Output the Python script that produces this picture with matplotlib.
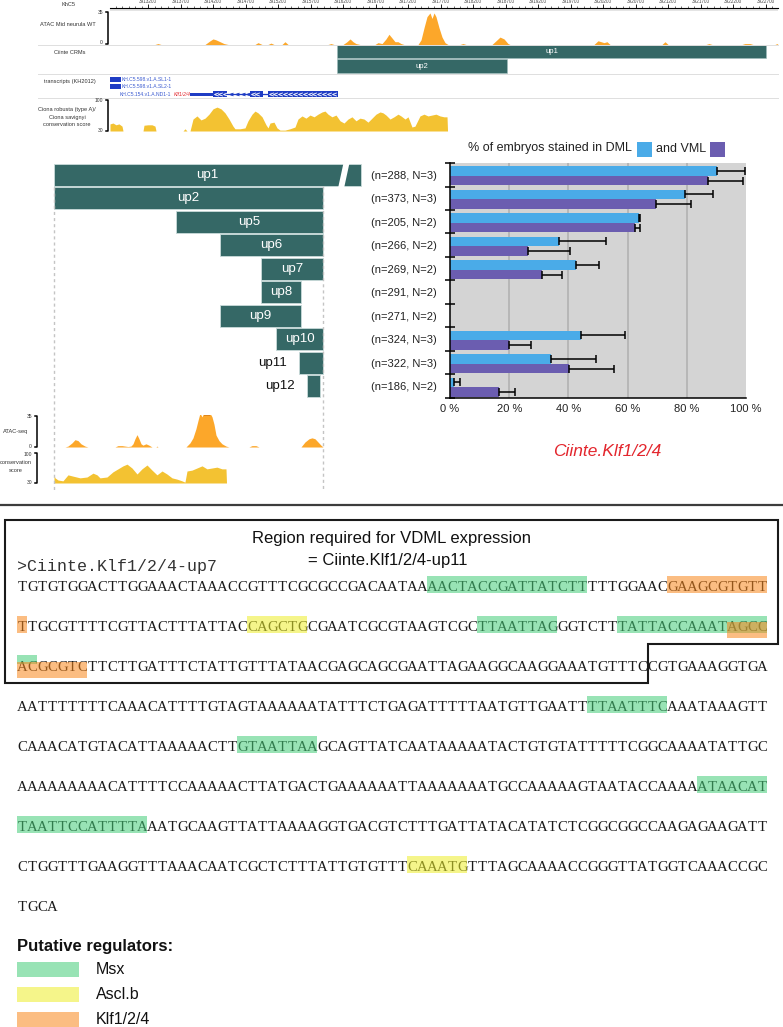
import numpy as np
import matplotlib
matplotlib.use("Agg")
import matplotlib.pyplot as plt
from matplotlib.patches import Rectangle, Polygon

# ======================= DATA =======================
genome_range = [3912615, 3922892]
ruler_ticks = [3913200, 3913700, 3914200, 3914700, 3915200, 3915700, 3916200,
               3916700, 3917200, 3917700, 3918200, 3918700, 3919200, 3919700,
               3920200, 3920700, 3921200, 3921700, 3922200, 3922700]

atac_top_bp = [3912615, 3913307, 3913353, 3913400, 3914077, 3914154, 3914200, 3914246,
               3914308, 3914369, 3914431, 3914846, 3914892, 3914954, 3915046, 3915092,
               3915138, 3915261, 3915307, 3915354, 3915969, 3916015, 3916061, 3916200,
               3916261, 3916308, 3916354, 3916400, 3916461, 3916692, 3916738, 3916800,
               3916861, 3916907, 3916954, 3917000, 3917046, 3917092, 3917138, 3917354,
               3917400, 3917446, 3917492, 3917538, 3917569, 3917600, 3917630, 3917677,
               3917723, 3917769, 3917815, 3917999, 3918046, 3918092, 3918492, 3918554,
               3918615, 3918677, 3918738, 3918769, 3920061, 3920123, 3920169, 3920215,
               3920261, 3920308, 3921107, 3921154, 3921200, 3921784, 3921830, 3921877,
               3922338, 3922384, 3922461, 3922507, 3922846, 3922877, 3922892]
atac_top_val = [0, 0, 1, 0, 0, 4, 6, 5, 3, 1, 0, 0, 2, 0, 0, 1.5, 0, 0, 3, 0, 0, 1, 0,
                0, 3, 6, 3, 1, 0, 0, 2, 1, 6, 11, 7, 3, 3, 1, 0,
                0, 5, 18, 30, 34, 28, 34, 30, 18, 8, 2, 0, 0, 1, 0,
                0, 4, 8, 6, 1, 0, 0, 4, 3, 2, 3, 0, 0, 3, 0, 0, 1, 0, 0, 1, 1, 0, 0, 1, 0]

cons_top_bp = [3912615, 3912661, 3912707, 3912753, 3912800, 3912815,
               3913123, 3913138, 3913200, 3913261, 3913307, 3913323,
               3913738, 3913769, 3913800,
               3913846, 3913892, 3913953, 3914015, 3914077, 3914138, 3914200, 3914261,
               3914323, 3914384, 3914446, 3914507, 3914538, 3914615, 3914692,
               3914738, 3914800, 3914846, 3914892, 3914954, 3915015, 3915046, 3915077,
               3915138, 3915184, 3915231, 3915307, 3915384, 3915461,
               3915507, 3915569, 3915630, 3915692, 3915754, 3915815, 3915877, 3915923,
               3915969, 3916030, 3916092, 3916154, 3916215, 3916277, 3916338, 3916400,
               3916461, 3916523, 3916584, 3916646, 3916707, 3916769, 3916815, 3916861,
               3916923, 3916984, 3917046, 3917092, 3917154, 3917200, 3917261, 3917307,
               3917384, 3917446, 3917507, 3917569, 3917630, 3917692, 3917754, 3917800,
               3917808]
cons_top_val = [46, 48, 44, 46, 41, 30,
                30, 43, 44, 44, 41, 30,
                30, 35, 30,
                30, 57, 64, 55, 59, 68, 80, 84, 80, 71, 57, 41, 35, 35, 37,
                53, 68, 75, 71, 62, 44, 37, 48, 50, 37, 32, 32, 35, 39,
                57, 64, 59, 66, 62, 68, 73, 75, 68, 62, 66, 53, 48, 57, 62, 53,
                59, 57, 50, 59, 68, 73, 71, 66, 57, 62, 68, 64, 57, 62, 39, 41,
                64, 68, 64, 66, 68, 64, 62, 62, 30]

crm_names = ["up1", "up2"]
crm_start = [3916107, 3916107]
crm_end = [3922708, 3918723]

sl_start = [3912615, 3912615]
sl_end = [3912784, 3912784]
sl_names = ["KH.C5.598.v1.A.SL1-1", "KH.C5.598.v1.A.SL2-1"]
gene_utr = [3913846, 3914200]
gene_exon_start = [3914200, 3914769, 3915046]
gene_exon_end = [3914415, 3914969, 3916123]

construct_names = ["up1", "up2", "up5", "up6", "up7", "up8", "up9", "up10", "up11", "up12"]
construct_start = [0, 0, 1186, 1614, 2012, 2012, 1614, 2158, 2382, 2459]
construct_end = [2985, 2615, 2615, 2615, 2615, 2401, 2401, 2615, 2615, 2586]
region_len = 2615

atac_low_bp = [0, 107, 136, 175, 204, 233, 262, 301, 330,
               593, 622, 661, 690, 719, 748, 768, 787, 807, 826, 846, 865, 894, 923, 953,
               991, 1001, 1011,
               1283, 1322, 1351, 1380, 1400, 1419, 1439, 1458, 1477, 1497, 1516, 1536,
               1555, 1575, 1604, 1633, 1672, 1701,
               1895, 1925, 1963, 1993,
               2401, 2440, 2479, 2508, 2537, 2566, 2595, 2615]
atac_low_val = [0, 0, 1, 4.5, 8, 7, 3.5, 1, 0,
                0, 1.5, 1.5, 1, 0.5, 1, 3.5, 9, 13.5, 9, 3.5, 2, 3.5, 2, 0,
                0, 1, 0,
                0, 4.5, 10, 20, 29, 37, 33, 38, 38, 38, 37, 33, 25, 13, 7, 3.5, 1, 0,
                0, 1.5, 1.5, 0,
                0, 5.5, 9, 10, 9, 5.5, 2, 0]

cons_low_bp = [0, 10, 39, 87, 136, 185, 253, 321, 379, 418, 447, 515, 573, 622, 671,
               710, 758, 807, 855, 904, 953, 1001, 1050, 1098, 1147, 1196, 1244, 1273,
               1293, 1341, 1390, 1439, 1487, 1536, 1584, 1633, 1672, 1677]
cons_low_val = [48, 42, 37, 35, 49, 46, 42, 44, 53, 49, 42, 44, 56, 63, 70, 74, 65, 51,
                63, 72, 60, 49, 58, 51, 42, 39, 35, 32, 58, 60, 65, 70, 63, 65, 67, 63,
                63, 30]

bar_labels = ["(n=288, N=3)", "(n=373, N=3)", "(n=205, N=2)", "(n=266, N=2)",
              "(n=269, N=2)", "(n=291, N=2)", "(n=271, N=2)", "(n=324, N=3)",
              "(n=322, N=3)", "(n=186, N=2)"]
dml_pct = [90.3, 79.4, 63.9, 36.8, 42.5, 0, 0, 44.3, 34.0, 1.5]
dml_err = [9.5, 9.3, 0.4, 15.8, 7.7, 0, 0, 14.8, 15.3, 1.8]
vml_pct = [87.0, 69.7, 62.6, 26.5, 31.2, 0, 0, 19.8, 40.1, 16.6]
vml_err = [12.1, 11.6, 1.7, 13.9, 6.8, 0, 0, 7.4, 15.3, 5.4]
x_ticks = [0, 20, 40, 60, 80, 100]

seq_header = ">Ciinte.Klf1/2/4-up7"
seq_lines = [
    "TGTGTGGACTTGGAAACTAAACCGTTTCGCGCCGACAATAAAACTACCGATTATCTTTTTGGAACGAAGCGTGTT",
    "TTGCGTTTTCGTTACTTTATTACCAGCTGCGAATCGCGTAAGTCGCTTAATTAGGGTCTTTATTACCAAATAGCC",
    "ACGCGTCTTCTTGATTTCTATTGTTTATAACGAGCAGCGAATTAGAAGGCAAGGAAATGTTTCCGTGAAAGGTGA",
    "AATTTTTTTCAAACATTTTGTAGTAAAAAATATTTCTGAGATTTTTAATGTTGAATTTTAATTTCAAATAAAGTT",
    "CAAACATGTACATTAAAAACTTGTAATTAAGCAGTTATCAATAAAAATACTGTGTATTTTTCGGCAAAATATTGC",
    "AAAAAAAAACATTTTCCAAAAACTTATGACTGAAAAAATTAAAAAAATGCCAAAAAGTAATACCAAAAATAACAT",
    "TAATTCCATTTTAAATGCAAGTTATTAAAAGGTGACGTCTTTGATTATACATATCTCGGCGGCCAAGAGAAGATT",
    "CTGGTTTGAAGGTTTAAACAATCGCTCTTTATTGTGTTTCAAATGTTTAGCAAAACCGGGTTATGGTCAAACCGC",
    "TGCA",
]
motif_line = [0, 0, 1, 1, 1, 1, 1, 2, 2, 3, 4, 5, 6, 7]
motif_start = [41, 65, 0, 23, 46, 60, 71, 0, 0, 57, 22, 68, 0, 39]
motif_len = [16, 10, 1, 6, 8, 15, 4, 2, 7, 8, 8, 7, 13, 6]
motif_factor = ["Msx", "Klf1/2/4", "Klf1/2/4", "Ascl.b", "Msx", "Msx", "Klf1/2/4",
                "Msx", "Klf1/2/4", "Msx", "Msx", "Msx", "Msx", "Ascl.b"]
motif_band = ["full", "full", "full", "full", "full", "full", "low",
              "high", "low", "full", "full", "full", "full", "full"]
regulators = ["Msx", "Ascl.b", "Klf1/2/4"]

# ======================= STYLE =======================
W, H = 783, 1027
plt.rcParams['font.family'] = ['Liberation Sans', 'DejaVu Sans']
TEAL = '#356866'
ORANGE = '#fca72a'
GOLD = '#f3c232'
BLUE = '#4aabe8'
PURPLE = '#6b5db0'
RED = '#e3262d'
TBLUE = '#1f3cc4'
LABEL = '#333333'
factor_color = {"Msx": "#44cc78", "Ascl.b": "#edee2a", "Klf1/2/4": "#f8871c"}
HL_ALPHA = 0.55
band_geom = {"full": (-0.27, 0.42), "low": (-0.12, 0.40), "high": (-0.30, 0.22)}

fig = plt.figure(figsize=(W / 100, H / 100), dpi=100)
fig.patch.set_facecolor('white')


def px_axes(x0, y0, x1, y1):
    return fig.add_axes([x0 / W, 1 - y1 / H, (x1 - x0) / W, (y1 - y0) / H])


def bare(ax):
    ax.set_xticks([])
    ax.set_yticks([])
    for s in ax.spines.values():
        s.set_visible(False)
    ax.patch.set_alpha(0)

# ---------------- top browser ----------------
ax_r = px_axes(110, 8, 778, 11)
ax_r.set_xlim(*genome_range)
ax_r.set_ylim(0, 1)
ax_r.set_facecolor('#e4e4e4')
for s in ['bottom', 'left', 'right']:
    ax_r.spines[s].set_visible(False)
ax_r.spines['top'].set_linewidth(0.8)
ax_r.xaxis.tick_top()
ax_r.set_xticks(ruler_ticks)
ax_r.set_xticklabels([str(t) for t in ruler_ticks], fontsize=3.3, color='#444444')
ax_r.set_xticks(np.arange(3912700, 3922892, 100), minor=True)
ax_r.tick_params(axis='x', which='major', length=2.6, width=0.6, pad=0.4)
ax_r.tick_params(axis='x', which='minor', length=1.4, width=0.4)
ax_r.set_yticks([])

ax_a = px_axes(110, 12, 778, 44.5)
ax_a.set_xlim(*genome_range)
ax_a.set_ylim(0, 35)
ax_a.fill_between(atac_top_bp, atac_top_val, color=ORANGE, lw=0)
bare(ax_a)

ax_c = px_axes(110, 44, 778, 74)
ax_c.set_xlim(*genome_range)
ax_c.set_ylim(1.55, -0.517)
ax_c.barh(range(len(crm_names)), [e - s for s, e in zip(crm_start, crm_end)],
          left=crm_start, height=0.9, color=TEAL, edgecolor='#9fbdbb', lw=0.4)
for i, nm in enumerate(crm_names):
    ax_c.text((crm_start[i] + crm_end[i]) / 2, i, nm, color='white', fontsize=5.6,
              ha='center', va='center')
bare(ax_c)

ax_t = px_axes(110, 74, 778, 97.5)
ax_t.set_xlim(*genome_range)
ax_t.set_ylim(2.43, -0.74)
for i in range(len(sl_names)):
    ax_t.barh(i, sl_end[i] - sl_start[i], left=sl_start[i], height=0.65, color=TBLUE)
    ax_t.text(sl_end[i] + 15, i, sl_names[i], color='#3b5bd0', fontsize=3.6,
              ha='left', va='center')
ax_t.plot([gene_exon_end[0], gene_exon_start[-1]], [2, 2], color=TBLUE, lw=0.9)
ax_t.barh(2, gene_utr[1] - gene_utr[0], left=gene_utr[0], height=0.45, color=TBLUE)
for s, e in zip(gene_exon_start, gene_exon_end):
    ax_t.barh(2, e - s, left=s, height=0.8, color=TBLUE)
    xs = np.arange(s + 40, e - 20, 75)
    ax_t.plot(xs, [2] * len(xs), ls='none', marker='$<$', ms=3.0, color='white', mew=0.2)
xi = np.arange(gene_exon_end[0] + 60, gene_exon_start[1] - 20, 90)
ax_t.plot(xi, [2] * len(xi), ls='none', marker='$<$', ms=2.6, color=TBLUE, mew=0.3)
ax_t.text(gene_utr[0] - 290, 2, "KH.C5.154.v1.A.ND1-1", color='#3b5bd0', fontsize=3.6,
          ha='right', va='center')
ax_t.text(gene_utr[0] - 250, 2, "Klf1/2/4", color=RED, fontsize=3.6, style='italic',
          ha='left', va='center')
bare(ax_t)

ax_k = px_axes(110, 100, 778, 131)
ax_k.set_xlim(*genome_range)
ax_k.set_ylim(30, 100)
ax_k.fill_between(cons_top_bp, 30, cons_top_val, color=GOLD, lw=0)
bare(ax_k)

# ---------------- constructs ----------------
ax_u = px_axes(54, 163, 323, 398)
ax_u.set_xlim(0, region_len)
ax_u.set_ylim(9.5, -0.5)
rows = np.arange(len(construct_names))
ax_u.barh(rows, [e - s for s, e in zip(construct_start, construct_end)],
          left=construct_start, height=0.93, color=TEAL, edgecolor='#c9dbda', lw=0.6,
          clip_on=False)
for i, nm in enumerate(construct_names):
    width = construct_end[i] - construct_start[i]
    if width > 350:
        ax_u.text((construct_start[i] + construct_end[i]) / 2, i, nm, color='white',
                  fontsize=9.6, ha='center', va='center', clip_on=False)
    else:
        ax_u.annotate(nm, (construct_start[i], i), xytext=(-9, 0),
                      textcoords='offset points', color='#111111', fontsize=9.6,
                      ha='right', va='center')
bare(ax_u)

ax_la = px_axes(54, 415, 323, 447)
ax_la.set_xlim(0, region_len)
ax_la.set_ylim(0, 35)
ax_la.fill_between(atac_low_bp, atac_low_val, color=ORANGE, lw=0)
ax_la.fill_between(atac_low_bp, 33.5, np.minimum(atac_low_val, 35),
                   where=np.array(atac_low_val) > 35, color='#e0861c', lw=0)
bare(ax_la)

ax_lc = px_axes(54, 453, 323, 483)
ax_lc.set_xlim(0, region_len)
ax_lc.set_ylim(30, 100)
ax_lc.fill_between(cons_low_bp, 30, cons_low_val, color=GOLD, lw=0)
bare(ax_lc)

# ---------------- bar chart ----------------
ax_b = px_axes(450, 163, 746, 398)
ax_b.set_facecolor('#d4d4d4')
ax_b.set_xlim(0, 100)
ax_b.set_ylim(9.5, -0.5)
for g in x_ticks[1:-1]:
    ax_b.axvline(g, color='#b4b4b4', lw=1.3, zorder=0.5)
yb = np.arange(len(bar_labels))
off_d, off_v, bh = -0.16, 0.25, 0.41
ax_b.barh(yb + off_d, dml_pct, height=bh, color=BLUE, zorder=2)
ax_b.barh(yb + off_v, vml_pct, height=bh, color=PURPLE, zorder=2)
for vals, errs, off in [(dml_pct, dml_err, off_d), (vml_pct, vml_err, off_v)]:
    m = np.array(vals) > 0
    v = np.array(vals)[m]
    e = np.array(errs)[m]
    ax_b.errorbar(v, yb[m] + off, xerr=[np.zeros_like(e), e], fmt='none',
                  ecolor='black', elinewidth=1.1, capsize=2.6, capthick=1.1,
                  zorder=3, clip_on=False)
for s in ['top', 'right']:
    ax_b.spines[s].set_visible(False)
ax_b.spines['left'].set_linewidth(1.1)
ax_b.spines['bottom'].set_linewidth(1.1)
ax_b.set_yticks(yb)
ax_b.set_yticklabels(bar_labels, fontsize=8, color='#222222')
ax_b.set_yticks(np.arange(-0.5, len(bar_labels), 1.0), minor=True)
ax_b.tick_params(axis='y', which='major', length=0, pad=9.5)
ax_b.tick_params(axis='y', which='minor', length=6.5, width=1.1, direction='inout')
ax_b.set_xticks(x_ticks)
ax_b.set_xticklabels([f"{t} %" for t in x_ticks], fontsize=8, color='#222222')
ax_b.tick_params(axis='x', length=0, pad=4)

# ---------------- sequence ----------------
ax_s = px_axes(17.3, 547, 767.3, 927)
ax_s.set_xlim(0, 75)
ax_s.set_ylim(8.5, -1.0)
bare(ax_s)
SEQ_FONT = dict(family=['Liberation Serif', 'DejaVu Serif'], fontsize=10.6, color='#1a1a1a')
ax_s.text(0, -0.5 + 0.11, seq_header, ha='left', va='baseline',
          family=['Liberation Mono', 'DejaVu Sans Mono'], fontsize=12, color='#333333')
for li, line in enumerate(seq_lines):
    for j, ch in enumerate(line):
        ax_s.text(j + 0.5, li + 0.11, ch, ha='center', va='baseline', **SEQ_FONT)
for ln, st, le, fa, bd in zip(motif_line, motif_start, motif_len, motif_factor, motif_band):
    top, hh = band_geom[bd]
    ax_s.add_patch(Rectangle((st, ln + top), le, hh, facecolor=factor_color[fa],
                             alpha=HL_ALPHA, lw=0, zorder=3))

# ---------------- overlay (labels, frames) ----------------
ov = px_axes(0, 0, W, H)
ov.set_xlim(0, W)
ov.set_ylim(H, 0)
ov.axis('off')

small = dict(fontsize=4.1, color=LABEL, ha='center', va='center')
ov.text(68, 5, "KhC5", **small)
ov.text(68, 24, "ATAC Mid neurula WT", **small)
ov.text(70, 52, "Ciinte CRMs", **small)
ov.text(70, 81, "transcripts (KH2012)", **small)
ov.text(67, 110, "Ciona robusta (type A)/", **small)
ov.text(67, 117.5, "Ciona savignyi", **small)
ov.text(67, 124.5, "conservation score", **small)
for y in [44.5, 74, 97.5]:
    ov.plot([38, 778], [y, y], color='#dedede', lw=0.7, zorder=0)


def bracket(x, y0, y1, top_lab, bot_lab, fs=3.6):
    ov.plot([x - 2.2, x, x, x - 2.2], [y0, y0, y1, y1], color='black', lw=1.1)
    ov.text(x - 5, y0 + 1, top_lab, fontsize=fs, color=LABEL, ha='right', va='center')
    ov.text(x - 5, y1 - 1, bot_lab, fontsize=fs, color=LABEL, ha='right', va='center')


bracket(108, 12, 44, "35", "0")
bracket(108, 100, 131, "100", "30")
bracket(37, 416, 447, "35", "0")
bracket(37, 453, 483, "100", "30")
ov.text(16, 431, "ATAC-seq", **small)
ov.text(16, 463, "conservation", **small)
ov.text(16, 470.5, "score", **small)

# dashed guides and up1 break
dash = dict(color='#c4c4c4', lw=1.0, ls=(0, (2.2, 2.2)), zorder=0)
ov.plot([54, 54], [187, 490], **dash)
ov.plot([323, 323], [186, 490], **dash)
ov.add_patch(Polygon([(338.3, 187), (343.6, 162.5), (349.6, 162.5), (344.3, 187)],
                     closed=True, facecolor='white', edgecolor='none', zorder=5))

# bar chart title with legend squares
ov.text(632, 148.5, "% of embryos stained in DML", fontsize=9, color='#222222',
        ha='right', va='center')
ov.add_patch(Rectangle((636.5, 141.5), 15, 15, facecolor=BLUE, lw=0))
ov.text(656, 148.5, "and VML", fontsize=9, color='#222222', ha='left', va='center')
ov.add_patch(Rectangle((709.5, 141.5), 15, 15, facecolor=PURPLE, lw=0))

ov.text(607, 452, "Ciinte.Klf1/2/4", fontsize=12.5, color=RED, style='italic',
        ha='center', va='center')

# separator
ov.plot([0, W], [505, 505], color='#3c3c3c', lw=1.6)

# region box
ov.add_patch(Polygon([(5, 519.5), (778, 519.5), (778, 644), (648, 644), (648, 683),
                      (5, 683)], closed=True, facecolor='none', edgecolor='#1a1a1a',
                     lw=1.5, zorder=4))
ov.text(392, 539, "Region required for VDML expression", fontsize=12, color='#111111',
        ha='center', va='center')
ov.text(388, 561, "= Ciinte.Klf1/2/4-up11", fontsize=12, color='#111111',
        ha='center', va='center')

# legend
ov.text(17, 947, "Putative regulators:", fontsize=12, fontweight='bold', color='#111111',
        ha='left', va='center')
for k, fa in enumerate(regulators):
    y0 = 962 + 25 * k
    ov.add_patch(Rectangle((17, y0), 62, 15, facecolor=factor_color[fa], alpha=HL_ALPHA,
                           lw=0))
    ov.text(96, y0 + 7.5, fa, fontsize=11.5, color='#111111', ha='left', va='center')

fig.savefig("out.png", dpi=100, facecolor='white')
